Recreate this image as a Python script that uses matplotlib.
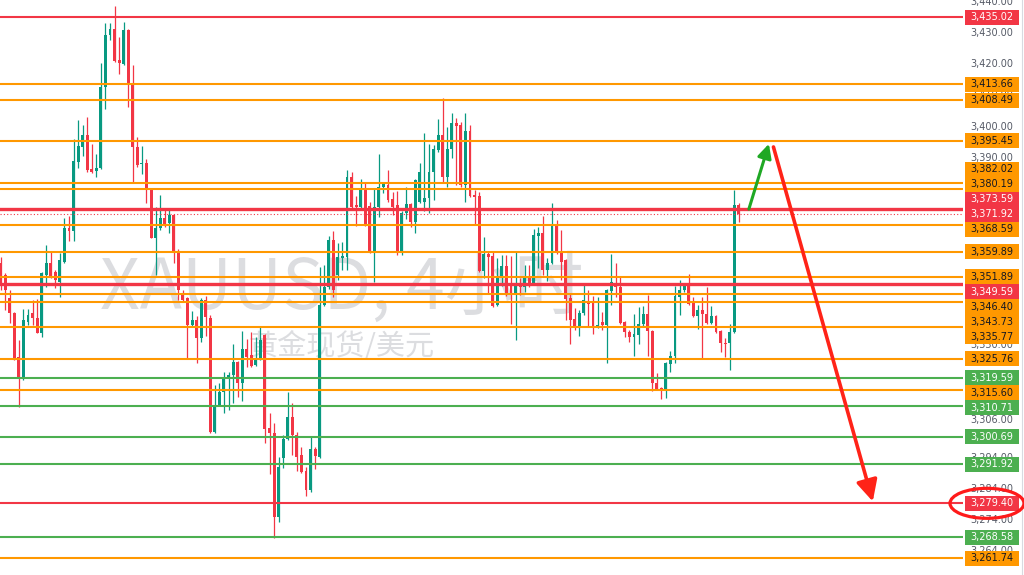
import numpy as np
import matplotlib.pyplot as plt
from matplotlib.patches import Rectangle, Ellipse

# 4h candles, oldest first
opens = [
    3356.4, 3352.5, 3345.1, 3340.3, 3326.2, 3319.5, 3337.5, 3340.3, 3338.7, 3333.9,
    3352.5, 3356.4, 3353.5, 3350.3, 3356.7, 3367.6, 3366.6, 3388.7, 3393.5, 3397.3,
    3386.5, 3385.8, 3386.8, 3412.7, 3429.4, 3431.3, 3421.4, 3420.1, 3431.0, 3413.7,
    3393.5, 3388.0, 3388.4, 3380.0, 3364.4, 3367.6, 3370.8, 3369.2, 3371.7, 3359.6,
    3346.7, 3345.1, 3336.5, 3338.1, 3332.3, 3344.5, 3338.7, 3302.2, 3310.9, 3315.0,
    3319.5, 3320.5, 3324.6, 3317.9, 3328.8, 3326.9, 3323.7, 3325.3, 3333.3, 3303.5,
    3301.9, 3275.0, 3293.9, 3300.0, 3307.0, 3301.3, 3294.9, 3289.8, 3283.7, 3296.8,
    3294.2, 3342.9, 3348.7, 3363.7, 3352.5, 3358.0, 3358.3, 3383.9, 3374.9, 3374.3,
    3379.7, 3374.6, 3359.9, 3374.3, 3380.7, 3381.3, 3376.8, 3374.9, 3359.6, 3372.4,
    3375.2, 3369.5, 3375.9, 3375.9, 3377.2, 3385.5, 3392.5, 3397.3, 3383.9, 3392.9,
    3401.2, 3400.5, 3381.3, 3398.6, 3378.1, 3377.8, 3353.8, 3359.2, 3358.6, 3342.9,
    3351.9, 3355.4, 3349.9, 3346.1, 3349.9, 3348.7, 3351.5, 3349.9, 3365.0, 3366.0,
    3354.1, 3356.4, 3368.2, 3359.6, 3357.3, 3345.1, 3338.4, 3335.5, 3340.3, 3344.2,
    3343.5, 3335.9, 3337.5, 3336.5, 3347.4, 3349.9, 3348.7, 3337.5, 3334.3, 3332.7,
    3333.3, 3336.8, 3340.0, 3334.6, 3317.9, 3316.3, 3315.7, 3324.0, 3326.6, 3345.5,
    3347.7, 3349.0, 3343.5, 3339.4, 3341.3, 3340.0, 3337.1, 3339.4, 3334.6, 3330.7,
    3330.7, 3334.3, 3374.9]
highs = [
    3358.3, 3353.1, 3347.7, 3340.7, 3331.7, 3341.6, 3341.6, 3344.5, 3344.8, 3353.5,
    3362.1, 3359.9, 3354.1, 3359.6, 3370.8, 3371.4, 3396.1, 3402.1, 3400.5, 3403.1,
    3394.5, 3391.2, 3420.4, 3433.2, 3433.2, 3438.6, 3428.7, 3433.5, 3431.3, 3419.7,
    3396.7, 3393.8, 3389.6, 3380.4, 3374.3, 3378.1, 3374.0, 3374.0, 3372.0, 3360.8,
    3347.7, 3345.5, 3341.0, 3339.4, 3345.1, 3345.8, 3339.7, 3317.3, 3317.9, 3321.4,
    3321.4, 3330.4, 3325.0, 3334.6, 3332.0, 3334.3, 3332.7, 3335.9, 3333.6, 3308.3,
    3305.1, 3294.2, 3301.3, 3315.0, 3311.5, 3302.2, 3297.4, 3291.0, 3300.6, 3297.4,
    3355.1, 3355.7, 3365.0, 3366.6, 3362.8, 3363.1, 3386.1, 3385.5, 3377.8, 3383.2,
    3382.0, 3375.9, 3380.4, 3391.2, 3382.0, 3386.1, 3379.1, 3379.4, 3373.0, 3380.7,
    3375.6, 3383.2, 3388.4, 3398.0, 3394.5, 3394.1, 3402.5, 3409.2, 3399.9, 3404.4,
    3402.8, 3401.5, 3404.4, 3400.5, 3379.7, 3379.1, 3364.7, 3359.9, 3359.9, 3358.0,
    3358.9, 3358.9, 3358.6, 3359.9, 3351.5, 3355.7, 3355.7, 3367.2, 3367.9, 3371.4,
    3358.0, 3375.6, 3370.1, 3366.9, 3357.6, 3346.7, 3341.9, 3341.3, 3349.3, 3347.7,
    3345.8, 3345.5, 3340.7, 3348.0, 3359.2, 3356.4, 3352.2, 3337.8, 3334.9, 3340.0,
    3342.3, 3342.6, 3346.1, 3334.9, 3321.1, 3316.6, 3324.6, 3328.2, 3349.0, 3350.9,
    3349.9, 3352.8, 3345.5, 3342.9, 3345.5, 3348.7, 3342.6, 3339.7, 3334.9, 3332.3,
    3336.8, 3379.7, 3375.6]
lows = [
    3347.7, 3341.3, 3337.1, 3325.3, 3310.2, 3318.9, 3336.5, 3336.5, 3333.9, 3332.7,
    3348.7, 3351.5, 3348.3, 3345.5, 3356.4, 3363.4, 3363.4, 3386.8, 3390.6, 3385.5,
    3385.2, 3383.9, 3386.5, 3405.7, 3427.8, 3420.8, 3416.9, 3419.7, 3406.3, 3382.3,
    3387.1, 3384.8, 3375.6, 3364.2, 3352.5, 3366.9, 3367.9, 3366.0, 3356.4, 3344.5,
    3343.9, 3325.6, 3336.3, 3324.3, 3331.1, 3333.0, 3302.0, 3302.0, 3310.6, 3308.3,
    3309.3, 3311.5, 3313.4, 3312.2, 3323.0, 3323.0, 3323.4, 3325.2, 3298.7, 3288.8,
    3268.3, 3273.4, 3290.7, 3299.7, 3294.9, 3289.8, 3289.2, 3281.7, 3283.0, 3290.4,
    3294.0, 3342.6, 3348.0, 3345.5, 3350.9, 3354.1, 3354.1, 3374.0, 3368.2, 3373.6,
    3368.2, 3359.6, 3350.3, 3371.1, 3378.8, 3375.9, 3371.7, 3358.9, 3358.9, 3370.4,
    3367.9, 3366.0, 3375.6, 3373.0, 3372.4, 3376.5, 3391.9, 3382.0, 3380.7, 3390.0,
    3381.3, 3380.7, 3375.9, 3377.6, 3368.5, 3353.5, 3351.5, 3346.7, 3342.3, 3342.6,
    3349.0, 3345.8, 3336.8, 3331.7, 3346.1, 3347.1, 3348.7, 3349.6, 3354.8, 3352.5,
    3350.6, 3356.0, 3359.2, 3350.9, 3338.1, 3330.4, 3334.9, 3333.0, 3339.7, 3336.2,
    3333.6, 3335.5, 3334.9, 3324.3, 3342.9, 3345.5, 3336.8, 3332.7, 3331.1, 3326.6,
    3330.4, 3336.2, 3326.6, 3315.4, 3315.7, 3312.8, 3313.1, 3321.4, 3324.3, 3339.7,
    3347.1, 3342.9, 3339.1, 3335.2, 3325.9, 3336.9, 3336.8, 3333.9, 3327.8, 3326.2,
    3322.1, 3333.9, 3369.5]
closes = [
    3349.9, 3347.7, 3340.3, 3325.9, 3319.5, 3338.1, 3339.7, 3338.7, 3333.9, 3353.1,
    3356.4, 3351.9, 3350.9, 3357.3, 3367.6, 3366.6, 3389.0, 3393.8, 3397.3, 3386.1,
    3385.5, 3386.8, 3412.7, 3429.4, 3431.3, 3421.0, 3420.4, 3431.0, 3413.3, 3393.5,
    3387.7, 3388.4, 3379.7, 3364.4, 3367.6, 3370.8, 3368.5, 3371.7, 3359.6, 3347.7,
    3344.5, 3336.5, 3338.1, 3332.3, 3344.5, 3339.1, 3302.2, 3310.9, 3315.0, 3319.5,
    3320.5, 3324.6, 3317.9, 3328.8, 3326.2, 3323.4, 3325.6, 3331.7, 3303.2, 3301.9,
    3275.0, 3291.0, 3300.0, 3307.0, 3301.3, 3294.2, 3289.4, 3283.7, 3296.8, 3294.5,
    3342.9, 3348.7, 3363.7, 3347.7, 3358.3, 3358.6, 3383.9, 3374.3, 3374.3, 3379.7,
    3368.5, 3359.9, 3374.3, 3380.7, 3381.6, 3376.5, 3374.3, 3359.6, 3372.4, 3375.2,
    3369.5, 3382.9, 3385.5, 3377.2, 3385.5, 3392.9, 3397.3, 3383.9, 3392.9, 3401.2,
    3400.2, 3381.3, 3398.6, 3377.8, 3377.5, 3353.8, 3359.2, 3358.3, 3342.6, 3351.9,
    3355.4, 3346.1, 3346.1, 3349.6, 3348.7, 3351.5, 3349.9, 3365.3, 3366.0, 3354.1,
    3356.4, 3368.2, 3359.6, 3356.7, 3344.8, 3338.1, 3335.5, 3340.3, 3344.5, 3343.2,
    3335.9, 3336.5, 3336.5, 3347.7, 3350.3, 3348.7, 3337.1, 3334.3, 3332.7, 3333.6,
    3336.8, 3340.0, 3334.6, 3317.9, 3316.0, 3315.4, 3324.3, 3326.6, 3345.8, 3347.7,
    3349.0, 3343.2, 3339.4, 3341.3, 3340.0, 3337.1, 3339.4, 3334.3, 3330.7, 3330.4,
    3334.3, 3374.9, 3371.9]

# horizontal levels: r = red, R = red (bold), o = orange, g = green, p = last price
level_prices = [3435.02, 3413.66, 3408.49, 3395.45, 3382.02, 3380.19, 3373.59, 3371.92,
                3368.59, 3359.89, 3351.89, 3349.59, 3346.40, 3343.73, 3335.77, 3325.76,
                3319.59, 3315.60, 3310.71, 3300.69, 3291.92, 3279.40, 3268.58, 3261.74]
level_kinds = ['r', 'o', 'o', 'o', 'o', 'o', 'R', 'p',
               'o', 'o', 'o', 'R', 'o', 'o', 'o', 'o',
               'g', 'o', 'g', 'g', 'g', 'r', 'g', 'o']

axis_ticks = [3440, 3430, 3420, 3410, 3400, 3390, 3330, 3306, 3294, 3284, 3274, 3264]

# arrows drawn on the chart: (bar index, price) start -> end
up_arrow = [(164.2, 3373.6), (168.6, 3394.5)]
down_arrow = [(169.6, 3393.5), (191.4, 3280.0)]
circled_level = 3279.40

UP = '#089981'
DOWN = '#f23645'
kind_style = {
    'r': dict(color='#f23645', lw=1.5, ls='-', box='#f23645', txt='white'),
    'R': dict(color='#f23645', lw=2.4, ls='-', box='#f23645', txt='white'),
    'o': dict(color='#ff9800', lw=1.5, ls='-', box='#ff9800', txt='#131722'),
    'g': dict(color='#4caf50', lw=1.5, ls='-', box='#4caf50', txt='white'),
    'p': dict(color='#f23645', lw=0.8, ls=(0, (1, 2)), box='#f23645', txt='white'),
}

ymin, ymax = 3256.45, 3440.56
W, H = 1024, 575
plot_w = 963

fig = plt.figure(figsize=(W / 100, H / 100), dpi=100)
fig.patch.set_facecolor('white')
ax = fig.add_axes([0, 0, plot_w / W, 1])
ax.set_xlim(-0.15, 211.2)
ax.set_ylim(ymin, ymax)
ax.axis('off')

# watermark
wm_font = ['Noto Sans CJK SC', 'DejaVu Sans']
ax.text(0.355, 1 - 289 / H, 'XAUUSD, 4小时', transform=ax.transAxes, ha='center', va='center',
        fontsize=50, color='#dcdde0', family=wm_font, zorder=1)
ax.text(0.355, 1 - 347 / H, '黄金现货/美元', transform=ax.transAxes, ha='center', va='center',
        fontsize=21, color='#dcdde0', family=wm_font, zorder=1)

o = np.array(opens)
h = np.array(highs)
l = np.array(lows)
c = np.array(closes)
x = np.arange(len(o))
cols = np.where(c >= o, UP, DOWN)
ax.vlines(x, l, h, colors=cols, lw=0.9, zorder=3)
ax.bar(x, np.maximum(np.abs(c - o), 0.4), bottom=np.minimum(o, c), width=0.64,
       color=cols, linewidth=0, zorder=3)

for p, k in zip(level_prices, level_kinds):
    st = kind_style[k]
    ax.axhline(p, color=st['color'], lw=st['lw'], ls=st['ls'], zorder=4)

# arrows
ax.annotate('', xy=up_arrow[1], xytext=up_arrow[0],
            arrowprops=dict(arrowstyle='-|>,head_length=0.6,head_width=0.3', color='#1fa824',
                            lw=2.2, mutation_scale=14, shrinkA=0, shrinkB=0), zorder=6)
ax.annotate('', xy=down_arrow[1], xytext=down_arrow[0],
            arrowprops=dict(arrowstyle='-|>,head_length=0.8,head_width=0.4', color='#ff2318',
                            lw=2.6, mutation_scale=16, shrinkA=0, shrinkB=0), zorder=6)

# price scale
ax2 = fig.add_axes([plot_w / W, 0, (W - plot_w) / W, 1])
ax2.set_xlim(0, 1)
ax2.set_ylim(ymin, ymax)
ax2.axis('off')
sw = W - plot_w
tx = (992 - plot_w) / sw
for t in axis_ticks:
    ax2.text(tx, t, f'{t:,.2f}', ha='center', va='center', fontsize=7, color='#555a66', zorder=1)
ax2.axvline((1022 - plot_w) / sw, color='#d8dae0', lw=0.8)

# label layout: last-price label stays put, the others are pushed away from it
unit_px = H / (ymax - ymin)
bh_px = 15.0
nat = [(ymax - p) * unit_px for p in level_prices]
ypx = list(nat)
fix = level_kinds.index('p')
for i in range(fix - 1, -1, -1):
    ypx[i] = min(nat[i], ypx[i + 1] - bh_px)
for i in range(fix + 1, len(nat)):
    ypx[i] = max(nat[i], ypx[i - 1] + bh_px)
pos = [ymax - y / unit_px for y in ypx]

trans = ax2.get_yaxis_transform()
bx0 = (965 - plot_w) / sw
bx1 = (1019 - plot_w) / sw
bh = bh_px / unit_px
for p, y, k in zip(level_prices, pos, level_kinds):
    st = kind_style[k]
    ax2.add_patch(Rectangle((bx0, y - bh / 2), bx1 - bx0, bh,
                            transform=trans, facecolor=st['box'], edgecolor='none', zorder=3))
    ax2.text(tx, y, f'{p:,.2f}', ha='center', va='center', fontsize=7, color=st['txt'], zorder=4)

ci = level_prices.index(circled_level)
ax2.add_patch(Ellipse(((987 - plot_w) / sw, pos[ci]), 74 / sw, 30 / unit_px, transform=trans,
                      fill=False, edgecolor='#ff1a1a', lw=2.3, clip_on=False, zorder=5))

fig.savefig('out.png', dpi=100)
